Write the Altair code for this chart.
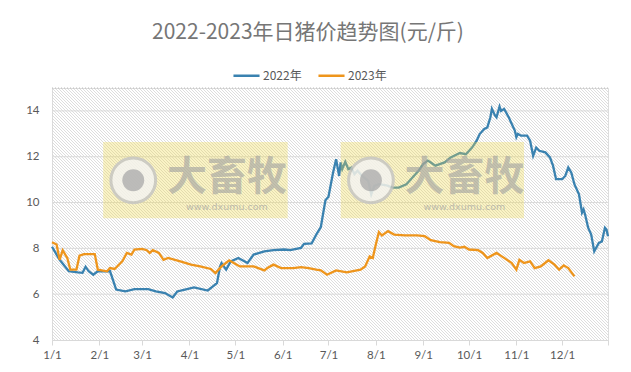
import json
import altair as alt
import numpy as np
import pandas as pd

# ---------------- data ----------------
dates_2022 = ["01-01","01-06","01-12","01-18","01-21","01-23","01-25","01-28","01-31","02-08",
              "02-10","02-12","02-18","02-24","03-05","03-10","03-16","03-21","03-24","03-29",
              "04-04","04-13","04-19","04-21","04-22","04-25","04-28","05-03","05-09","05-13",
              "05-20","05-26","06-02","06-06","06-13","06-15","06-20","06-23","06-26","06-29",
              "07-01","07-04","07-06","07-08","07-09","07-10","07-12","07-14","07-16","07-18",
              "07-20","07-23","07-27","07-29","07-31","08-03","08-08","08-12","08-16","08-21",
              "08-25","08-29","09-01","09-04","09-06","09-09","09-15","09-19","09-25","09-29",
              "10-03","10-06","10-08","10-11","10-13","10-15","10-16","10-18","10-19","10-21",
              "10-22","10-24","10-27","10-29","10-31","11-01","11-02","11-04","11-08","11-10",
              "11-12","11-14","11-16","11-20","11-23","11-25","11-27","12-01","12-03","12-05",
              "12-07","12-09","12-12","12-14","12-15","12-16","12-18","12-20","12-22","12-25",
              "12-27","12-29","12-30","12-31"]
values_2022 = [8.07,7.5,7.0,6.95,6.93,7.2,7.0,6.85,7.0,7.0,
               6.6,6.2,6.12,6.22,6.22,6.12,6.05,5.86,6.12,6.2,
               6.3,6.16,6.48,7.2,7.36,7.07,7.43,7.58,7.36,7.73,
               7.87,7.92,7.95,7.92,8.02,8.2,8.22,8.6,8.93,10.1,
               10.25,11.3,11.89,11.16,11.75,11.46,11.78,11.46,11.53,11.24,
               11.39,11.16,10.95,10.36,10.73,10.8,10.75,10.65,10.65,10.8,
               11.09,11.39,11.68,11.83,11.75,11.61,11.75,11.97,12.16,12.11,
               12.4,12.7,12.99,13.21,13.28,13.72,14.09,13.8,13.72,14.19,
               14.0,14.09,13.72,13.43,13.14,12.85,13.0,12.92,12.92,12.7,
               12.04,12.4,12.26,12.19,11.97,11.61,11.02,11.02,11.16,11.53,
               11.3,10.8,10.36,9.56,9.7,9.48,8.9,8.6,7.87,8.24,
               8.3,8.9,8.82,8.53]

dates_2023 = ["01-01","01-04","01-06","01-08","01-11","01-13","01-17","01-19","01-22","01-29",
              "01-31","02-06","02-08","02-11","02-16","02-19","02-22","02-24","03-01","03-04",
              "03-06","03-08","03-12","03-15","03-18","03-26","04-02","04-08","04-15","04-18",
              "04-22","04-27","04-30","05-04","05-13","05-20","05-22","05-26","05-31","06-08",
              "06-13","06-18","06-23","06-26","06-30","07-06","07-13","07-22","07-25","07-28",
              "07-30","08-01","08-03","08-05","08-09","08-13","08-20","08-28","09-02","09-06",
              "09-12","09-18","09-21","09-25","09-28","10-01","10-07","10-10","10-13","10-19",
              "10-23","10-29","11-01","11-03","11-06","11-10","11-13","11-17","11-22","11-26",
              "11-29","12-02","12-05","12-09"]
values_2023 = [8.27,8.17,7.5,7.92,7.58,7.07,7.07,7.68,7.75,7.75,
               7.07,7.0,7.14,7.1,7.43,7.8,7.73,7.95,7.98,7.92,
               7.8,7.92,7.8,7.5,7.58,7.43,7.29,7.21,7.1,6.92,
               7.21,7.48,7.36,7.21,7.21,7.04,7.14,7.29,7.14,7.14,
               7.18,7.14,7.07,7.04,6.85,7.04,6.95,7.07,7.21,7.65,
               7.58,8.17,8.71,8.56,8.75,8.6,8.57,8.57,8.53,8.36,
               8.27,8.24,8.1,8.03,8.07,7.95,7.92,7.8,7.58,7.8,
               7.63,7.36,7.07,7.5,7.36,7.43,7.14,7.21,7.48,7.29,
               7.07,7.26,7.14,6.78]

series_names = ["2022年", "2023年"]
series_colors = ["#3a82b0", "#ee951c"]
month_ticks = [0, 31, 59, 90, 120, 151, 181, 212, 243, 273, 304, 334, 364]
month_labels = ["1/1", "2/1", "3/1", "4/1", "5/1", "6/1", "7/1", "8/1", "9/1",
                "10/1", "11/1", "12/1", ""]
y_ticks = [4, 6, 8, 10, 12, 14]
y_max = 15
title_text = "2022-2023年日猪价趋势图(元/斤)"

# watermark (decoration) boxes, in day / price units
wm_boxes_x = [33.5, 189.0]
wm_boxes_x2 = [154.3, 309.0]
wm_box_y = 12.64
wm_box_y2 = 9.31
wm_logo_x = [53.2, 208.8]
wm_logo_y = 10.97
wm_text_x = [114.5, 270.0]
wm_text = "大畜牧"
wm_url = "www.dxumu.com"

# ---------------- build tables ----------------
def doy(md):
    return int(pd.Timestamp("2022-" + md).dayofyear) - 1

rows = []
for md, v in zip(dates_2022, values_2022):
    rows.append({"day": doy(md), "price": v, "year": series_names[0]})
for md, v in zip(dates_2023, values_2023):
    rows.append({"day": doy(md), "price": v, "year": series_names[1]})
df = pd.DataFrame(rows)

W, H = 556, 252
x_dom = [0, 364]
y_dom = [4, y_max]

# diagonal hatch background (decoration), expressed in data units
step = 3
offs = np.arange(-H, W + step, step)
hatch = pd.DataFrame({
    "hx": offs / W * 364,
    "hx2": (offs + H) / W * 364,
    "hy": [y_max] * len(offs),
    "hy2": [4] * len(offs),
})

x_scale = alt.Scale(domain=x_dom, nice=False, zero=False)
y_scale = alt.Scale(domain=y_dom, nice=False, zero=False)

label_expr = "{}[indexof({}, datum.value)]".format(json.dumps(month_labels), json.dumps(month_ticks))

x_axis = alt.Axis(values=month_ticks, labelExpr=label_expr, title=None, grid=False,
                  domainColor="#d9d9d9", tickColor="#d9d9d9", tickSize=5,
                  labelFont="Lato", labelFontSize=11.5, labelColor="#595959",
                  labelPadding=4, labelFlush=False)
y_axis = alt.Axis(values=y_ticks, title=None, grid=False, domain=False, ticks=False,
                  labelFont="Lato", labelFontSize=11.5, labelColor="#595959",
                  labelPadding=13)

hatch_layer = alt.Chart(hatch).mark_rule(clip=True, color="#d4d4d4", strokeWidth=0.8).encode(
    x=alt.X("hx:Q", scale=x_scale, axis=x_axis),
    x2="hx2:Q",
    y=alt.Y("hy:Q", scale=y_scale, axis=y_axis),
    y2="hy2:Q",
)

grid_layer = alt.Chart(pd.DataFrame({"g": y_ticks[1:]})).mark_rule(
    color="#dadada", strokeWidth=1).encode(y=alt.Y("g:Q", scale=y_scale))

top_layer = alt.Chart(pd.DataFrame({"t": [y_max]})).mark_rule(
    color="#bdbdbd", strokeWidth=1, strokeDash=[1, 2]).encode(y=alt.Y("t:Q", scale=y_scale))

lines = alt.Chart(df).mark_line(strokeWidth=2.3, interpolate="linear").encode(
    x=alt.X("day:Q", scale=x_scale),
    y=alt.Y("price:Q", scale=y_scale),
    color=alt.Color("year:N",
                    scale=alt.Scale(domain=series_names, range=series_colors),
                    legend=alt.Legend(title=None, orient="none", legendX=180, legendY=-27,
                                      direction="horizontal", symbolType="stroke",
                                      symbolSize=680, symbolStrokeWidth=2.5,
                                      labelFont="Noto Sans CJK SC", labelFontSize=12,
                                      labelColor="#595959", columnPadding=11,
                                      labelOffset=2)),
    detail="year:N",
)

wm_df = pd.DataFrame({"x": wm_boxes_x, "x2": wm_boxes_x2,
                      "y": [wm_box_y] * 2, "y2": [wm_box_y2] * 2})
wm_rect = alt.Chart(wm_df).mark_rect(color="#efd94a", opacity=0.32).encode(
    x=alt.X("x:Q", scale=x_scale), x2="x2:Q",
    y=alt.Y("y:Q", scale=y_scale), y2="y2:Q")

logo_df = pd.DataFrame({"x": wm_logo_x, "y": [wm_logo_y] * 2})
logo_outer = alt.Chart(logo_df).mark_point(shape="circle", size=2000, filled=True,
                                           fill="#f4f4f4", stroke="#c4c4c4",
                                           strokeWidth=3, opacity=0.8).encode(
    x=alt.X("x:Q", scale=x_scale), y=alt.Y("y:Q", scale=y_scale))
logo_inner = alt.Chart(logo_df).mark_point(shape="circle", size=480, filled=True,
                                           color="#a8a8a8", opacity=0.75).encode(
    x=alt.X("x:Q", scale=x_scale), y=alt.Y("y:Q", scale=y_scale))

text_df = pd.DataFrame({"x": wm_text_x, "y": [11.05] * 2, "t": [wm_text] * 2,
                        "yu": [9.8] * 2, "u": [wm_url] * 2})
wm_big = alt.Chart(text_df).mark_text(font="Noto Sans CJK SC", fontSize=40, fontWeight="bold",
                                      color="#a0a0a0", opacity=0.6).encode(
    x=alt.X("x:Q", scale=x_scale), y=alt.Y("y:Q", scale=y_scale), text="t:N")
wm_small = alt.Chart(text_df).mark_text(font="DejaVu Sans", fontSize=9.5,
                                        color="#a0a0a0", opacity=0.65).encode(
    x=alt.X("x:Q", scale=x_scale), y=alt.Y("yu:Q", scale=y_scale), text="u:N")

chart = alt.layer(hatch_layer, grid_layer, top_layer, lines, wm_rect,
                  logo_outer, logo_inner, wm_big, wm_small).properties(
    width=W, height=H,
    title=alt.TitleParams(title_text, font="Noto Sans CJK SC", fontSize=21,
                          fontWeight="normal", color="#767676", anchor="middle",
                          dx=-22, offset=18),
    autosize=alt.AutoSizeParams(type="none"),
    padding={"left": 44, "top": 80, "right": 10, "bottom": 22},
).configure_view(stroke=None).configure(background="white")

chart.save("out.html", embed_options={"renderer": "svg", "actions": False})
